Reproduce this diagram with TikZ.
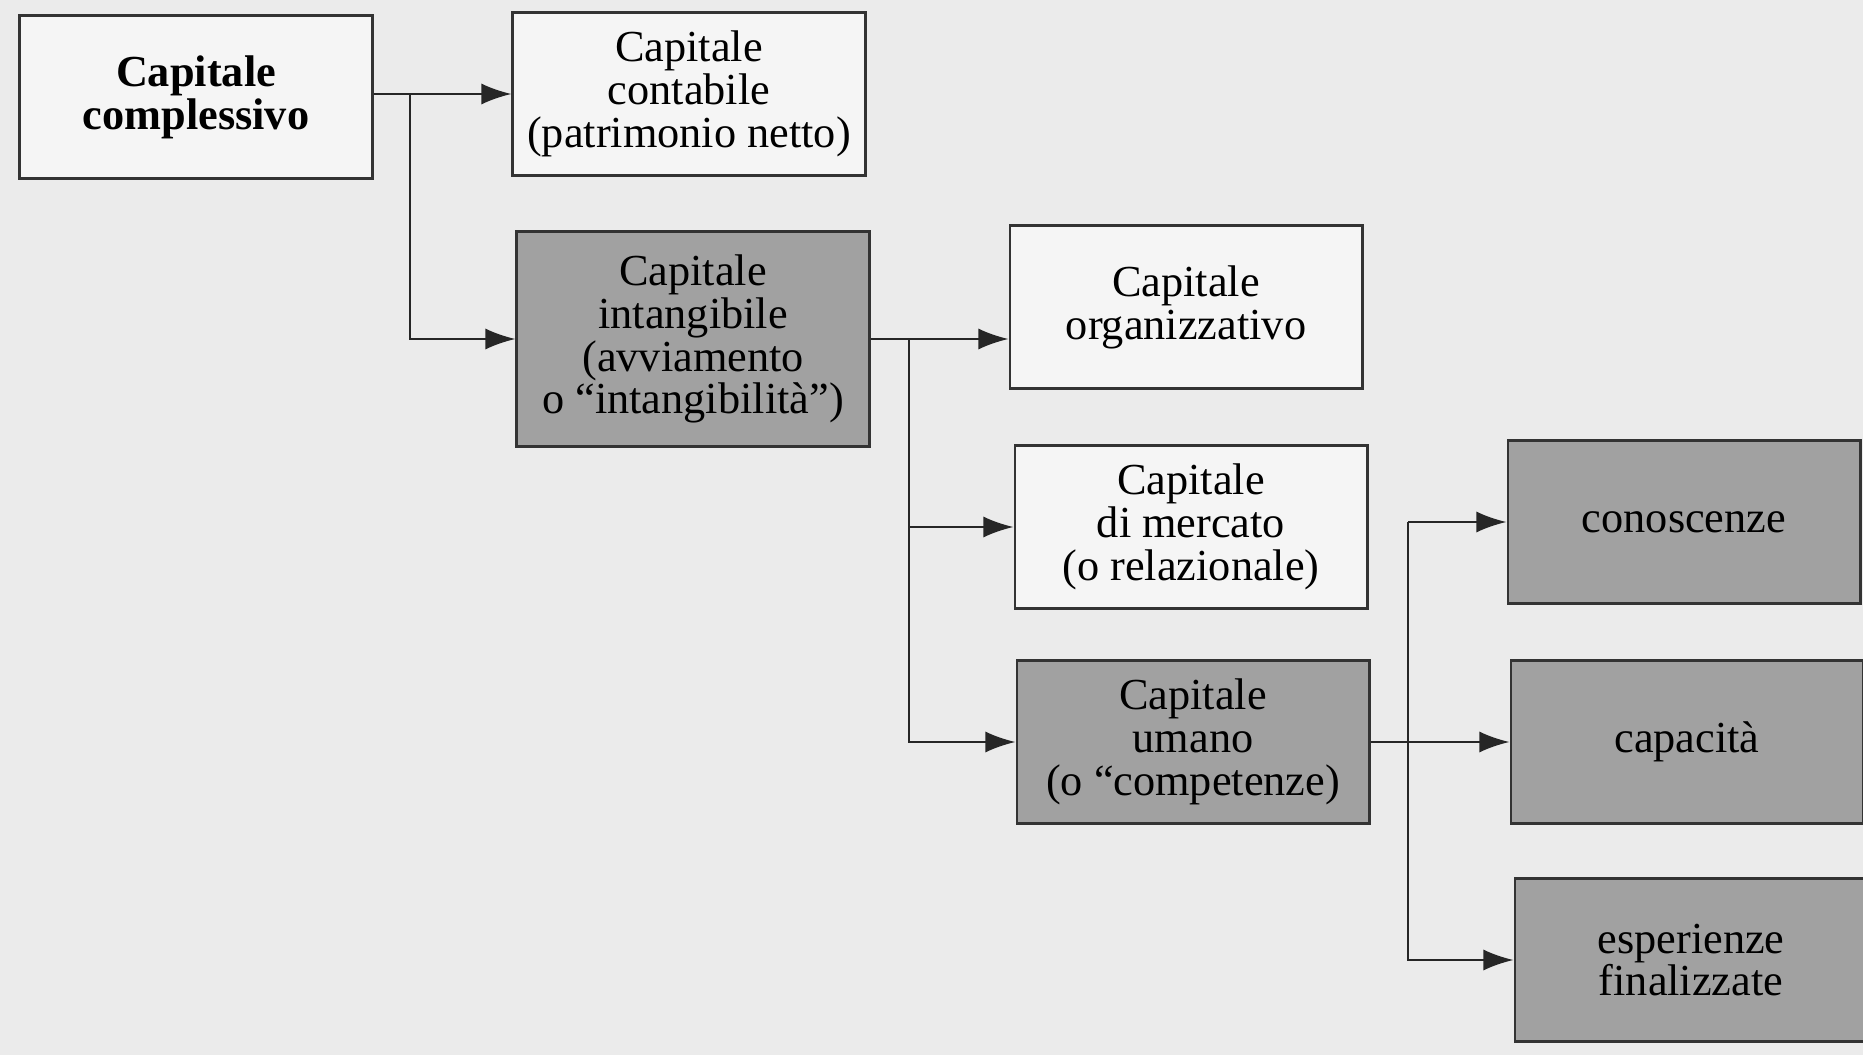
\documentclass[tikz,border=0pt]{standalone}
\usepackage{fontspec}
\setmainfont{Liberation Serif}
\usetikzlibrary{arrows.meta}

\begin{document}
\begin{tikzpicture}[x=0.01cm,y=-0.01cm,
  every node/.style={font=\fontsize{12.6}{12.2}\selectfont},
  box/.style={draw=black!80,line width=0.8pt,rectangle,align=center,inner sep=2pt,
    minimum width=3.52cm,minimum height=1.63cm,fill=black!4},
  dark/.style={box,fill=black!37},
  arr/.style={-{Latex[length=3mm,width=2.1mm]},line width=0.6pt,draw=black!85}]

  \useasboundingbox[fill=black!8] (0,0) rectangle (1863,1055);

  % first level
  \node[box,font=\bfseries\fontsize{12.6}{12.2}\selectfont] (cc) at (196,97) {Capitale\\complessivo};

  % second level
  \node[box] (ccont) at (689,94) {Capitale\\contabile\\(patrimonio netto)};
  \node[dark,minimum height=2.15cm] (cint) at (693,339) {Capitale\\intangibile\\(avviamento\\o “intangibilità”)};

  % third level
  \node[box] (corg) at (1186,307) {Capitale\\organizzativo};
  \node[box] (cmerc) at (1191,527) {Capitale\\di mercato\\(o relazionale)};
  \node[dark] (cum) at (1193,742) {Capitale\\umano\\(o “competenze)};

  % fourth level
  \node[dark] (con) at (1684,522) {conoscenze};
  \node[dark] (cap) at (1687,742) {capacità};
  \node[dark] (esp) at (1691,960) {esperienze\\finalizzate};

  % junctions
  \coordinate (j1) at (410,94);
  \coordinate (j2) at (909,339);
  \coordinate (j3) at (1408,522);

  % Edges
  \draw[arr] (cc.east |- j1) -- (ccont.west);
  \draw[arr] (j1) |- (cint.west);

  \draw[arr] (cint.east) -- (cint.east -| corg.west);
  \draw[arr] (j2) |- (cmerc.west);
  \draw[arr] (j2) |- (cum.west);

  \draw[arr] (cum.east) -- (cap.west);
  \draw[arr] (j3) -- (con.west);
  \draw[arr] (j3) |- (esp.west);
\end{tikzpicture}
\end{document}
